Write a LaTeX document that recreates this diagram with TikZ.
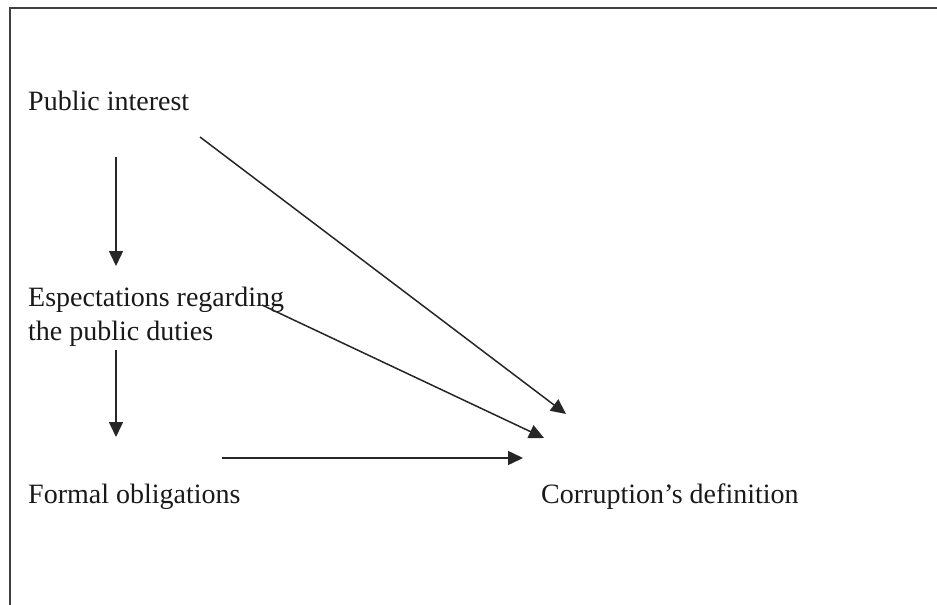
\documentclass[tikz,border=0pt]{standalone}
\usepackage{fontspec}
\setmainfont{Liberation Serif}
\usetikzlibrary{arrows.meta}
\begin{document}
\begin{tikzpicture}[x=1pt,y=-1pt,
  lbl/.style={anchor=base west,inner sep=0pt,font=\fontsize{28}{34}\selectfont,text=black!90},
  arr/.style={line width=1.5pt,draw=black!85,-{Triangle[length=15pt,width=14pt]}},
  frameline/.style={line width=2pt,draw=black!75}]
\useasboundingbox (0,0) rectangle (937,605);
\coordinate (ftl) at (10,8);
\coordinate (ftr) at (937,8);
\coordinate (fbl) at (10,605);
\draw[frameline] (ftr) -- (ftl) -- (fbl);
\node[lbl] (pi) at (28,110) {Public interest};
\node[lbl] (ex1) at (28,306) {Espectations regarding};
\node[lbl] (ex2) at (28,340) {the public duties};
\node[lbl] (fo) at (28,503) {Formal obligations};
\node[lbl] (cd) at (541,503) {Corruption’s definition};
\coordinate (a1s) at (116,157);
\coordinate (a1e) at (116,266);
\coordinate (a2s) at (116,350);
\coordinate (a2e) at (116,437);
\coordinate (a3s) at (222,458);
\coordinate (a3e) at (523,458);
\coordinate (a4s) at (200,137);
\coordinate (a4e) at (566,414);
\coordinate (a5s) at (262,305);
\coordinate (a5e) at (544,438);
\draw[arr] (a1s) -- (a1e);
\draw[arr] (a2s) -- (a2e);
\draw[arr] (a3s) -- (a3e);
\draw[arr] (a4s) -- (a4e);
\draw[arr] (a5s) -- (a5e);
\end{tikzpicture}
\end{document}
